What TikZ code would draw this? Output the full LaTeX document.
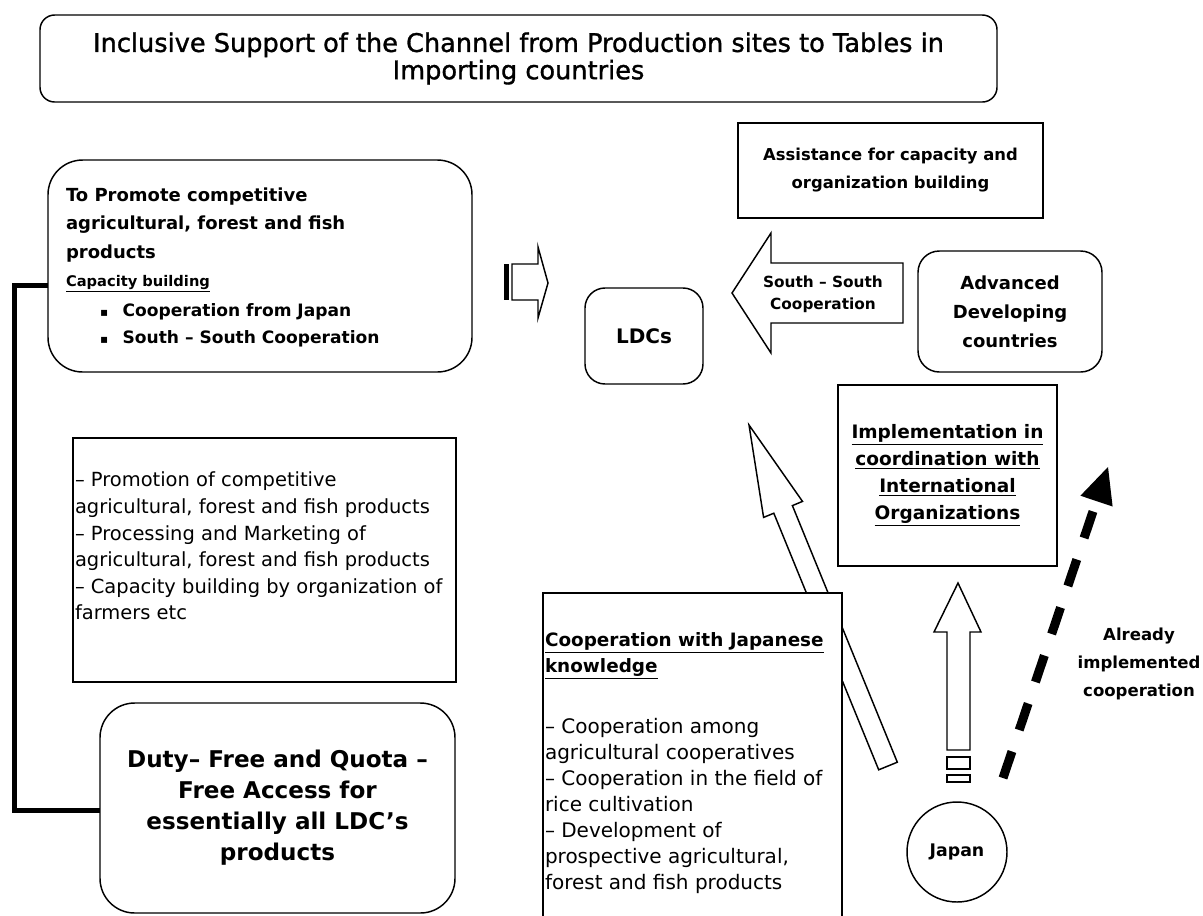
\documentclass[tikz,border=0pt]{standalone}
\usepackage{fontspec}
\setmainfont{DejaVu Sans}
\newfontfamily\titlefont[FakeBold=1.2]{DejaVu Sans}
\newcommand\fsz[2]{\fontsize{#1pt}{#2pt}\selectfont}
\begin{document}
\begin{tikzpicture}[x=0.75pt,y=-0.75pt,
  every node/.style={inner sep=0pt, outer sep=0pt},
  frame/.style={draw, line width=1.1pt, fill=white},
  rframe/.style={frame, rounded corners=#1},
  wh/.style 2 args={minimum width={#1*0.75pt}, minimum height={#2*0.75pt}},
  txt/.style={anchor=west, align=left}]
\useasboundingbox (0,0) rectangle (1203,915);

% title
\node[rframe=11pt, wh={957}{87}, align=center, font=\titlefont\fsz{19.2}{20.5}] (title) at (518.5,58.5)
  {Inclusive Support of the Channel from Production sites to Tables in\\Importing countries};

% left big box
\node[rframe=26pt, wh={424}{212}] (lbox) at (260,266) {};
\node[txt, font=\bfseries\fsz{13.5}{21.5}] (lhead) at (66,225)
  {To Promote competitive\\agricultural, forest and fish\\products};
\node[txt, font=\bfseries\fsz{11}{12}] (capb) at (66,284) {\underline{Capacity building}};
\node[txt, font=\bfseries\fsz{12.8}{20.25}] (bul) at (100,325)
  {\makebox[17pt][l]{\fsz{9}{9}▪}Cooperation from Japan\\\makebox[17pt][l]{\fsz{9}{9}▪}South – South Cooperation};

% middle list box
\node[frame, wh={383}{244}] (mbox) at (264.5,560) {};
\node[txt, font=\fsz{14.6}{19.9}] (mtext) at (75,546)
  {– Promotion of competitive\\agricultural, forest and fish products\\– Processing and Marketing of\\agricultural, forest and fish products\\– Capacity building by organization of\\farmers etc};

% duty free box
\node[rframe=26pt, wh={355}{210}, align=center, font=\bfseries\fsz{17.3}{23.25}] (duty) at (277.5,808)
  {Duty– Free and Quota –\\Free Access for\\essentially all LDC’s\\products};

% bracket
\coordinate (b1) at (14,285);
\coordinate (b2) at (14,810);
\draw[line width=3.75pt] (lbox.west |- b1) -- (b1) -- (b2) -- (duty.west |- b2);

% small striped right arrow
\fill (504,264) rectangle (509,300);
\draw[frame] (512,264) -- (538,264) -- (538,247) -- (548,283) -- (538,318) -- (538,300) -- (512,300) -- cycle;

% right side boxes
\node[frame, wh={305}{95}, align=center, font=\bfseries\fsz{12.3}{21}] (assist) at (890.5,170.5)
  {Assistance for capacity and\\organization building};
\node[rframe=15pt, wh={118}{96}, font=\bfseries\fsz{15}{18}] (ldc) at (644,336) {LDCs};
\node[rframe=16pt, wh={184}{121}, align=center, font=\bfseries\fsz{13.5}{21.75}] (adv) at (1010,311.5)
  {Advanced\\Developing\\countries};

% south-south arrow
\draw[frame] (903,263) -- (771,263) -- (771,233) -- (732,293) -- (771,353) -- (771,323) -- (903,323) -- cycle;
\node[align=center, font=\bfseries\fsz{11.5}{16.5}] (ss) at (823,294) {South – South\\Cooperation};

% big diagonal arrow toward LDCs
\draw[frame] (878.7,769.8) -- (897.3,762.2) -- (792.4,505.6) -- (802.5,501.4) -- (749,425) -- (763.6,517.4) -- (773.8,513.2) -- cycle;

% Japanese knowledge box
\node[frame, wh={299}{360}] (jbox) at (692.5,773) {};
\node[txt, font=\bfseries\fsz{13.8}{19.5}] (jhead) at (545,656)
  {\underline{Cooperation with Japanese}\\\underline{knowledge}};
\node[txt, font=\fsz{15}{19.5}] (jlist) at (545,806)
  {– Cooperation among\\agricultural cooperatives\\– Cooperation in the field of\\rice cultivation\\– Development of\\prospective agricultural,\\forest and fish products};

% implementation box
\node[frame, wh={219}{181}, align=center, font=\bfseries\fsz{13.9}{20.25}] (impl) at (947.5,475.5)
  {\underline{Implementation in}\\\underline{coordination with}\\\underline{International}\\\underline{Organizations}};

% Japan striped up arrow
\draw[frame] (947,750) -- (947,632) -- (934,632) -- (958,583) -- (981,632) -- (970,632) -- (970,750) -- cycle;
\draw[frame] (947,757) rectangle (970,769);
\draw[frame] (947,775) rectangle (970,782);

% Japan circle
\node[frame, circle, minimum size=75pt, font=\bfseries\fsz{13}{15}] (japan) at (957,852) {Japan};

% dashed arrow
\coordinate (dtail) at (1003,778);
\coordinate (dbase) at (1096.5,501.1);
\draw[line width=6.75pt, dash pattern=on 21pt off 17pt] (dtail) -- (dbase);
\fill (1108,467) -- (1112.6,506.5) -- (1080.4,495.7) -- cycle;
\node[align=center, font=\bfseries\fsz{12.4}{21}] (already) at (1139,664) {Already\\implemented\\cooperation};
\end{tikzpicture}
\end{document}
